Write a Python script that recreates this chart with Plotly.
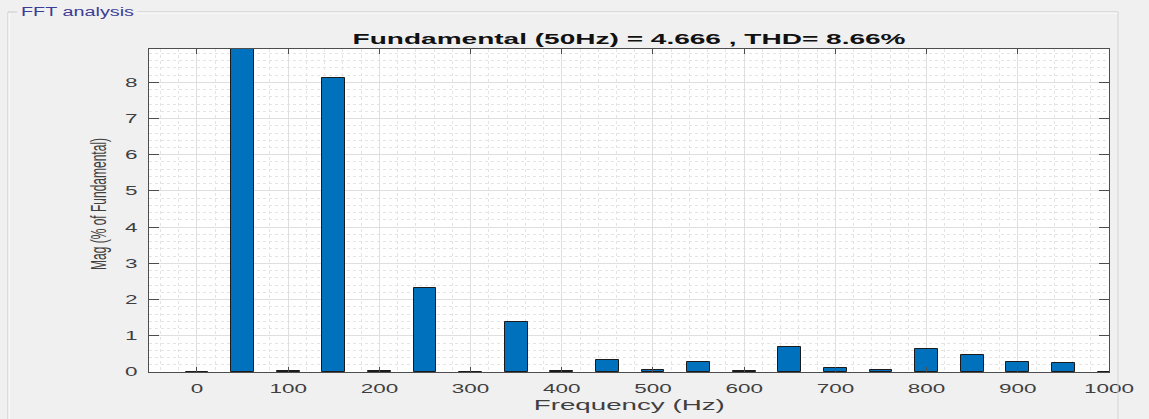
import json
import plotly.graph_objects as go

# ---------------- data ----------------
freq_hz = [0, 50, 100, 150, 200, 250, 300, 350, 400, 450, 500,
           550, 600, 650, 700, 750, 800, 850, 900, 950, 1000]
mag_pct = [0.0, 100.0, 0.03, 8.12, 0.03, 2.31, 0.01, 1.38, 0.04, 0.33, 0.05,
           0.29, 0.04, 0.70, 0.12, 0.06, 0.64, 0.47, 0.29, 0.26, 0.0]
x_tick_vals = [0, 100, 200, 300, 400, 500, 600, 700, 800, 900, 1000]
x_tick_text = ["0", "100", "200", "300", "400", "500", "600", "700", "800", "900", "1000"]
y_tick_vals = [0, 1, 2, 3, 4, 5, 6, 7, 8]
y_tick_text = ["0", "1", "2", "3", "4", "5", "6", "7", "8"]
title_text = "Fundamental (50Hz) = 4.666 , THD= 8.66%"
panel_title = "FFT analysis"
x_label = "Frequency (Hz)"
y_label = "Mag (% of Fundamental)"

# ---------------- layout geometry (pixels) ----------------
W, H = 1149, 419
L, R, T, B = 149, 1109, 49, 372
FONT = "Liberation Sans, Arial, Helvetica, sans-serif"
TXT = "#3f3f3f"
AXC = "#4d4d4d"


def px(p):
    return (p - L) / (R - L)


def py(p):
    return (B - p) / (B - T)


fig = go.Figure(
    go.Bar(
        x=freq_hz,
        y=mag_pct,
        width=25,
        marker=dict(color="#0072BD", line=dict(color="#1b1b1b", width=1)),
        hoverinfo="x+y",
    )
)

axis_common = dict(
    ticks="inside",
    tickwidth=1,
    tickcolor=AXC,
    showline=True,
    linecolor=AXC,
    linewidth=1,
    mirror="ticks",
    showgrid=True,
    gridcolor="#dfdfdf",
    gridwidth=1,
    zeroline=False,
    tickfont=dict(family=FONT, size=12.5, color=TXT),
)

fig.update_layout(
    width=W,
    height=H,
    margin=dict(l=L, r=W - R, t=T, b=H - B, pad=0),
    paper_bgcolor="#f0f0f0",
    plot_bgcolor="#ffffff",
    showlegend=False,
    bargap=0,
    xaxis=dict(
        range=[-52.6, 1000],
        tickmode="array",
        tickvals=x_tick_vals,
        ticktext=x_tick_text,
        ticklen=5,
        ticklabelstandoff=5,
        minor=dict(dtick=20, tick0=0, showgrid=True, gridcolor="#e4e4e4",
                   griddash="dot", gridwidth=1),
        **axis_common,
    ),
    yaxis=dict(
        range=[0, 8.92],
        tickmode="array",
        tickvals=y_tick_vals,
        ticktext=y_tick_text,
        ticklen=10,
        ticklabelstandoff=8,
        minor=dict(dtick=0.2, tick0=0, showgrid=True, gridcolor="#e4e4e4",
                   griddash="dot", gridwidth=1),
        **axis_common,
    ),
    shapes=[
        # etched panel frame (gap left for the panel title)
        dict(type="line", xref="paper", yref="paper", x0=px(8), x1=px(17),
             y0=py(12), y1=py(12), line=dict(color="#c9c9c9", width=1)),
        dict(type="line", xref="paper", yref="paper", x0=px(137), x1=px(1118),
             y0=py(12), y1=py(12), line=dict(color="#c9c9c9", width=1)),
        dict(type="line", xref="paper", yref="paper", x0=px(137), x1=px(1118),
             y0=py(13), y1=py(13), line=dict(color="#ffffff", width=1)),
        dict(type="line", xref="paper", yref="paper", x0=px(8), x1=px(8),
             y0=py(12), y1=py(425), line=dict(color="#c9c9c9", width=1)),
        dict(type="line", xref="paper", yref="paper", x0=px(9), x1=px(9),
             y0=py(13), y1=py(425), line=dict(color="#ffffff", width=1)),
        dict(type="line", xref="paper", yref="paper", x0=px(1118), x1=px(1118),
             y0=py(12), y1=py(425), line=dict(color="#d4d4d4", width=1)),
    ],
    annotations=[
        dict(text=panel_title, xref="paper", yref="paper", x=px(20), y=py(12),
             xanchor="left", yanchor="middle", align="left", showarrow=False,
             borderpad=0,
             font=dict(family=FONT, size=12, color="#3d3d96")),
        dict(text="<b>" + title_text + "</b>", xref="paper", yref="paper",
             x=0.5, y=py(38.5), xanchor="center", yanchor="middle", showarrow=False,
             font=dict(family=FONT, size=14.5, color="#111111")),
        dict(text=x_label, xref="paper", yref="paper",
             x=0.5, y=py(405), xanchor="center", yanchor="middle", showarrow=False,
             font=dict(family=FONT, size=14, color=TXT)),
        dict(text=y_label, xref="paper", yref="paper", textangle=-90,
             x=px(99), y=py(204), xanchor="center", yanchor="middle", showarrow=False,
             font=dict(family=FONT, size=12, color=TXT)),
    ],
)

# The reference was rendered horizontally stretched; widen the horizontal
# texts to the same widths (they stay real SVG text), and thicken the
# rotated y label across its baseline.
tick_stretch = 1.8
text_widths = {title_text: 553, x_label: 191, panel_title: 113}
thick_stretch = {y_label: 1.8}

post = """
(function(){
  document.documentElement.style.margin='0';
  document.body.style.margin='0';
  document.body.style.background='#f0f0f0';
  var gd = document.getElementById('{plot_id}');
  var K = %s;
  var WID = %s;
  var THK = %s;
  function setLen(t, len){
    t.setAttribute('textLength', len.toFixed(1));
    t.setAttribute('lengthAdjust', 'spacingAndGlyphs');
  }
  function apply(){
    gd.querySelectorAll('.xtick text, .ytick text').forEach(function(t){
      t.removeAttribute('textLength');
      setLen(t, t.getComputedTextLength() * K);
    });
    gd.querySelectorAll('text.annotation-text').forEach(function(t){
      var w = WID[t.textContent];
      if (w) setLen(t, w);
      var k = THK[t.textContent];
      if (k) {
        t.removeAttribute('transform');
        var b = t.getBBox();
        var cx = b.x + b.width / 2, cy = b.y + b.height / 2;
        t.setAttribute('transform', 'translate(' + cx + ',' + cy + ') scale(1,' + k +
                       ') translate(' + (-cx) + ',' + (-cy) + ')');
      }
    });
  }
  apply();
  if (gd.on) gd.on('plotly_afterplot', apply);
})();
""" % (json.dumps(tick_stretch), json.dumps(text_widths), json.dumps(thick_stretch))

fig.write_html("out.html", post_script=post, config={"displayModeBar": False})
